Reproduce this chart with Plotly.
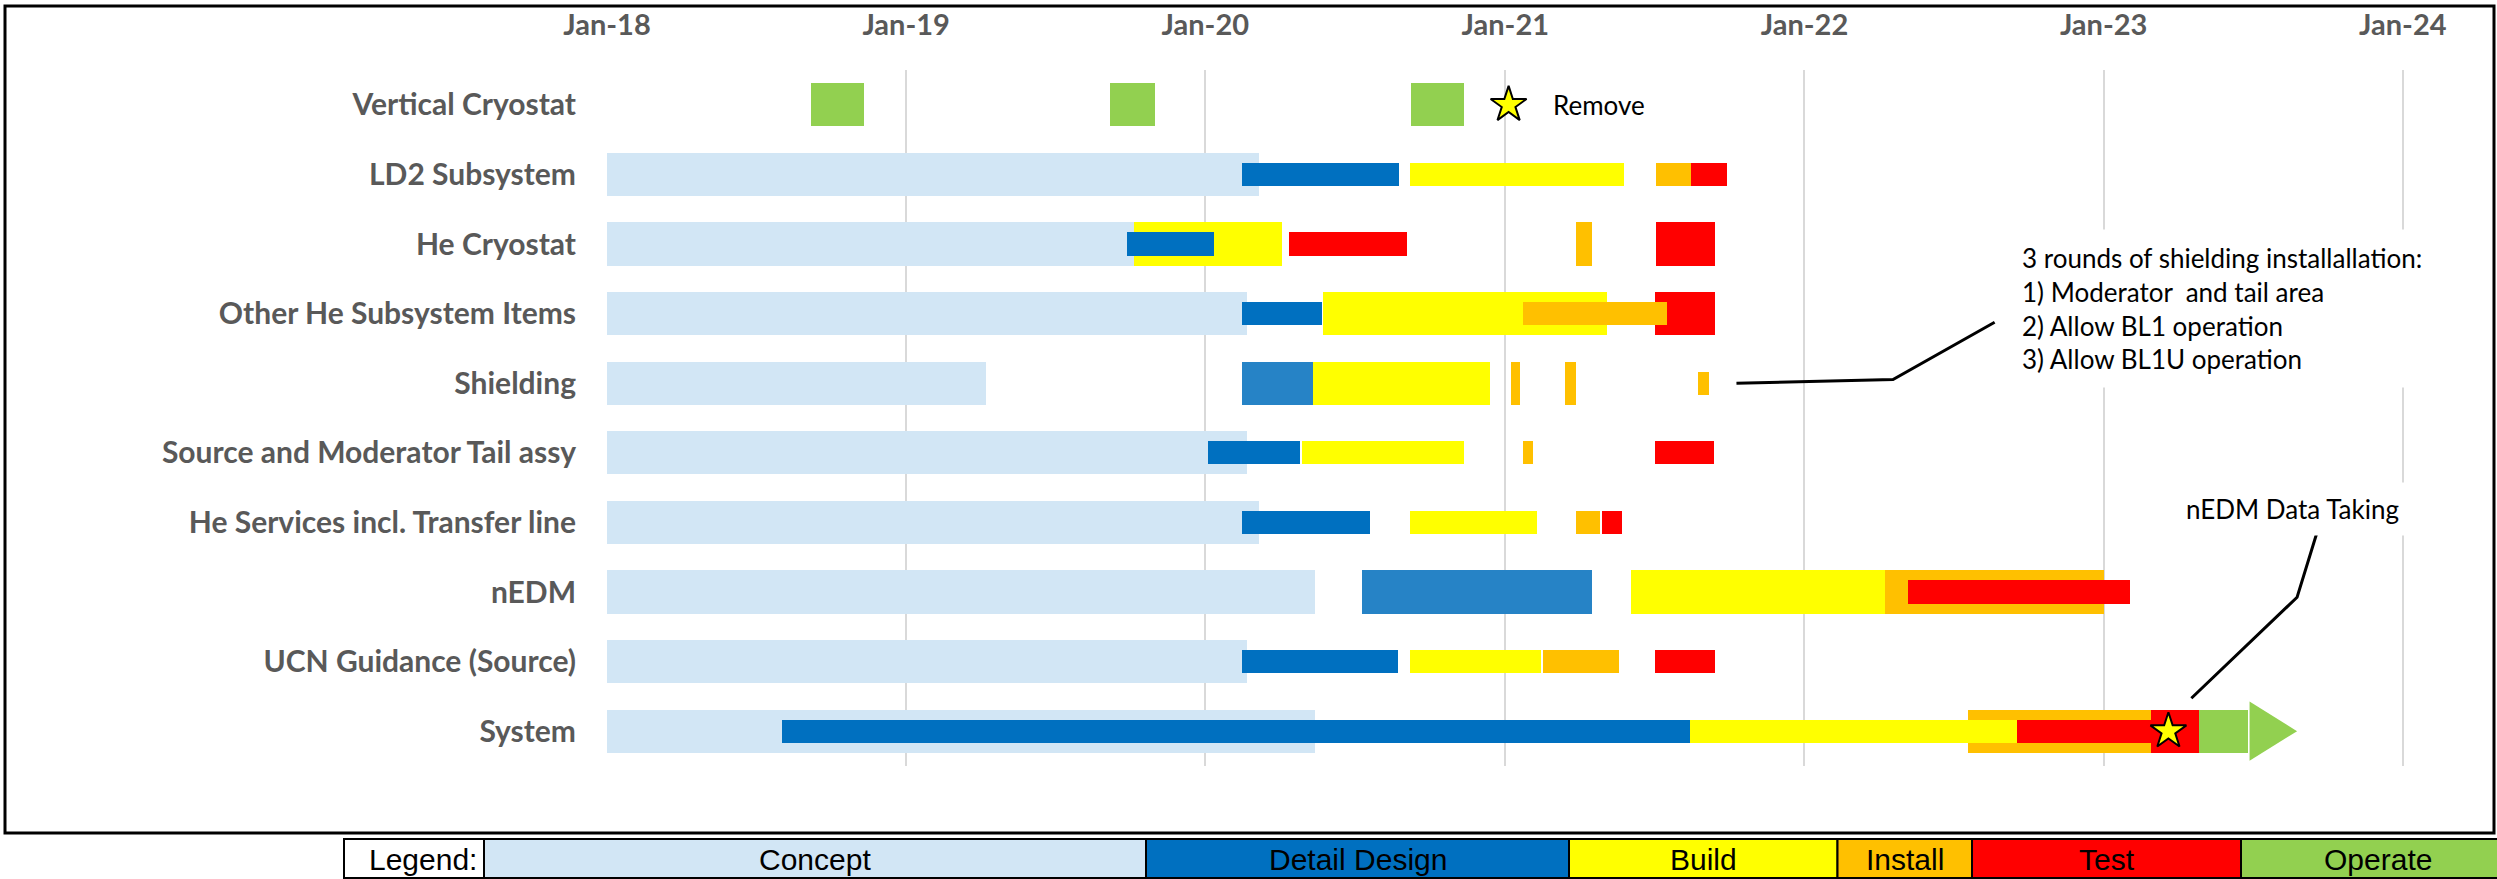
import plotly.graph_objects as go
from datetime import datetime

# ---------------- data ----------------
tasks = ["Vertical Cryostat", "LD2 Subsystem", "He Cryostat", "Other He Subsystem Items",
         "Shielding", "Source and Moderator Tail assy", "He Services incl. Transfer line",
         "nEDM", "UCN Guidance (Source)", "System"]

# Concept phase (full height)
concept_task = ["LD2 Subsystem", "He Cryostat", "Other He Subsystem Items", "Shielding",
                "Source and Moderator Tail assy", "He Services incl. Transfer line", "nEDM",
                "UCN Guidance (Source)", "System"]
concept_start = ["2018-01-01"] * 9
concept_end = ["2020-03-06", "2019-10-06", "2020-02-21", "2019-04-08", "2020-02-21",
               "2020-03-06", "2020-05-14", "2020-02-21", "2020-05-14"]

# Detail design (inner bars)
design_task = ["LD2 Subsystem", "He Cryostat", "Other He Subsystem Items",
               "Source and Moderator Tail assy", "He Services incl. Transfer line",
               "UCN Guidance (Source)", "System"]
design_start = ["2020-02-15", "2019-09-27", "2020-02-15", "2020-01-04", "2020-02-15", "2020-02-15", "2018-08-03"]
design_end = ["2020-08-24", "2020-01-12", "2020-05-22", "2020-04-26", "2020-07-20", "2020-08-23", "2021-08-14"]

# Detail design (full-height bars)
design2_task = ["Shielding", "nEDM"]
design2_start = ["2020-02-15", "2020-07-10"]
design2_end = ["2020-05-11", "2021-04-17"]

# Build
build_full_task = ["He Cryostat", "Other He Subsystem Items", "Shielding", "nEDM"]
build_full_start = ["2019-10-06", "2020-05-24", "2020-05-11", "2021-06-03"]
build_full_end = ["2020-04-04", "2021-05-05", "2020-12-13", "2022-04-09"]

build_task = ["LD2 Subsystem", "Source and Moderator Tail assy", "He Services incl. Transfer line",
              "UCN Guidance (Source)", "System"]
build_start = ["2020-09-07", "2020-04-28", "2020-09-07", "2020-09-07", "2021-08-14"]
build_end = ["2021-05-26", "2020-11-11", "2021-02-09", "2021-02-14", "2022-09-17"]

# Install
install_full_task = ["He Cryostat", "Shielding", "Shielding", "nEDM", "System"]
install_full_start = ["2021-03-28", "2021-01-08", "2021-03-15", "2022-04-09", "2022-07-20"]
install_full_end = ["2021-04-17", "2021-01-19", "2021-03-28", "2023-01-02", "2023-02-28"]

install_task = ["LD2 Subsystem", "Other He Subsystem Items", "Shielding",
                "Source and Moderator Tail assy", "He Services incl. Transfer line", "UCN Guidance (Source)"]
install_start = ["2021-07-04", "2021-01-23", "2021-08-24", "2021-01-23", "2021-03-28", "2021-02-16"]
install_end = ["2021-08-16", "2021-07-17", "2021-09-07", "2021-02-04", "2021-04-26", "2021-05-20"]

# Test
test_full_task = ["He Cryostat", "Other He Subsystem Items", "System"]
test_full_start = ["2021-07-04", "2021-07-03", "2023-02-28"]
test_full_end = ["2021-09-14", "2021-09-14", "2023-04-27"]

test_task = ["LD2 Subsystem", "He Cryostat", "Source and Moderator Tail assy",
             "He Services incl. Transfer line", "nEDM", "UCN Guidance (Source)", "System"]
test_start = ["2021-08-16", "2020-04-12", "2021-07-03", "2021-04-29", "2022-05-07", "2021-07-03", "2022-09-17"]
test_end = ["2021-09-29", "2020-09-03", "2021-09-13", "2021-05-23", "2023-02-02", "2021-09-14", "2023-02-28"]

# Operate
operate_task = ["Vertical Cryostat", "Vertical Cryostat", "Vertical Cryostat", "System"]
operate_start = ["2018-09-07", "2019-09-07", "2020-09-08", "2023-04-27"]
operate_end = ["2018-11-11", "2019-11-01", "2020-11-11", "2023-06-26"]

# Operate continuation arrow (System)
arrow_task = "System"
arrow_start = "2023-06-28"
arrow_tip = "2023-08-25"

# Milestones (stars)
star_task = ["Vertical Cryostat", "System"]
star_date = ["2021-01-05", "2023-03-21"]

x_ticks_start = "2018-01-01"
x_range = ["2018-01-01", "2024-03-01"]

# legend table
legend_labels = ["Legend:", "Concept", "Detail Design", "Build", "Install", "Test", "Operate"]

# ---------------- styles ----------------
C_CONCEPT = "#D2E6F5"
C_DESIGN = "#0070C0"
C_DESIGN2 = "#2683C6"
C_BUILD = "#FFFF00"
C_INSTALL = "#FFC000"
C_TEST = "#FF0000"
C_OPERATE = "#92D050"
GRAY = "#595959"
THICK = 0.62
THIN = 0.335
AX_FONT = "Lato, 'Open Sans', sans-serif"

W, H = 2497, 879
ML, MR, MT, MB = 607, 45, 70, 113
PW, PH = W - ML - MR, H - MT - MB


def fx(px):
    return (px - ML) / PW


def fy(py):
    return 1 - (py - MT) / PH


def ms(s, e):
    return (datetime.fromisoformat(e) - datetime.fromisoformat(s)).total_seconds() * 1000


def rows(names):
    return [tasks.index(n) for n in names]


def bar(names, starts, ends, color, width):
    return go.Bar(orientation="h", y=rows(names), base=starts,
                  x=[ms(s, e) for s, e in zip(starts, ends)],
                  width=width, marker=dict(color=color, line=dict(width=0)),
                  hoverinfo="skip", showlegend=False)


fig = go.Figure()
fig.add_trace(bar(concept_task, concept_start, concept_end, C_CONCEPT, THICK))
fig.add_trace(bar(design2_task, design2_start, design2_end, C_DESIGN2, THICK))
fig.add_trace(bar(build_full_task, build_full_start, build_full_end, C_BUILD, THICK))
fig.add_trace(bar(install_full_task, install_full_start, install_full_end, C_INSTALL, THICK))
fig.add_trace(bar(test_full_task, test_full_start, test_full_end, C_TEST, THICK))
fig.add_trace(bar(operate_task, operate_start, operate_end, C_OPERATE, THICK))
fig.add_trace(bar(design_task, design_start, design_end, C_DESIGN, THIN))
fig.add_trace(bar(build_task, build_start, build_end, C_BUILD, THIN))
fig.add_trace(bar(install_task, install_start, install_end, C_INSTALL, THIN))
fig.add_trace(bar(test_task, test_start, test_end, C_TEST, THIN))

# arrow head
ar = tasks.index(arrow_task)
half = 0.425
fig.add_trace(go.Scatter(x=[arrow_start, arrow_start, arrow_tip, arrow_start],
                         y=[ar - half, ar + half, ar, ar - half], mode="lines",
                         fill="toself", fillcolor=C_OPERATE, line=dict(width=0, color=C_OPERATE),
                         hoverinfo="skip", showlegend=False))

# callout lines
callout1_x = ["2021-10-10", "2022-04-19", "2022-08-21"]
callout1_y = [4.0, 3.947, 3.124]
callout2_x = ["2023-09-18", "2023-08-25", "2023-04-18"]
callout2_y = [6.155, 7.075, 8.526]
for cx, cy in ((callout1_x, callout1_y), (callout2_x, callout2_y)):
    fig.add_trace(go.Scatter(x=cx, y=cy, mode="lines", line=dict(color="black", width=3),
                             hoverinfo="skip", showlegend=False))

# stars
fig.add_trace(go.Scatter(x=star_date, y=rows(star_task), mode="markers",
                         marker=dict(symbol="star", size=27, color="#FFFF00",
                                     line=dict(color="black", width=2)),
                         hoverinfo="skip", showlegend=False))

annots = [
    dict(x="2021-02-26", y=0, xref="x", yref="y", text="Remove", showarrow=False,
         xanchor="left", yanchor="middle", font=dict(family=AX_FONT, size=26, color="black")),
    dict(x="2022-09-08", y=2.93, xref="x", yref="y",
         text="3 rounds of shielding installallation:<br>1) Moderator  and tail area<br>"
              "2) Allow BL1 operation<br>3) Allow BL1U operation",
         showarrow=False, xanchor="left", yanchor="middle", align="left",
         bgcolor="white", borderpad=12,
         font=dict(family=AX_FONT, size=26, color="black")),
    dict(x="2023-08-19", y=5.805, xref="x", yref="y", text="nEDM Data Taking", showarrow=False,
         xanchor="center", yanchor="middle", bgcolor="white", borderpad=10,
         font=dict(family=AX_FONT, size=26, color="black")),
]

shapes = [dict(type="rect", xref="paper", yref="paper", x0=fx(5), x1=fx(2494), y0=fy(833), y1=fy(6),
               line=dict(color="black", width=3), fillcolor="rgba(0,0,0,0)", layer="above")]

# legend table
cell_edges = [344, 484, 1146, 1569, 1837.5, 1972, 2241, 2515]
cell_colors = ["white", C_CONCEPT, C_DESIGN, C_BUILD, C_INSTALL, C_TEST, C_OPERATE]
for i, (lab, col) in enumerate(zip(legend_labels, cell_colors)):
    x0, x1 = cell_edges[i], cell_edges[i + 1]
    shapes.append(dict(type="rect", xref="paper", yref="paper", x0=fx(x0), x1=fx(x1),
                       y0=fy(878), y1=fy(839), fillcolor=col,
                       line=dict(color="black", width=2), layer="above"))
    if i == 0:
        ax, anc = fx(x1 - 5), "right"
    else:
        ax, anc = fx((x0 + x1) / 2), "center"
    annots.append(dict(x=ax, y=fy(859), xref="paper", yref="paper", text=lab, showarrow=False,
                       xanchor=anc, yanchor="middle",
                       font=dict(family="'Liberation Sans', Arial, sans-serif", size=30, color="black")))

fig.update_layout(
    width=W, height=H, margin=dict(l=ML, r=MR, t=MT, b=MB, pad=0, autoexpand=False),
    paper_bgcolor="white", plot_bgcolor="white", barmode="overlay", bargap=0,
    showlegend=False, annotations=annots, shapes=shapes,
    xaxis=dict(type="date", range=x_range, side="top", tick0=x_ticks_start, dtick="M12",
               tickformat="%b-%y", showgrid=True, gridcolor="#D9D9D9", gridwidth=2,
               zeroline=False, showline=False, ticks="outside", ticklen=22,
               tickcolor="rgba(0,0,0,0)", automargin=False,
               tickfont=dict(family=AX_FONT, size=29, color=GRAY, weight="bold")),
    yaxis=dict(range=[9.5, -0.5], tickmode="array", tickvals=list(range(len(tasks))),
               ticktext=tasks, showgrid=False, zeroline=False, showline=False,
               ticks="outside", ticklen=24, tickcolor="rgba(0,0,0,0)", automargin=False,
               tickfont=dict(family=AX_FONT, size=30, color=GRAY, weight="bold")),
)

fig.write_html("out.html")
